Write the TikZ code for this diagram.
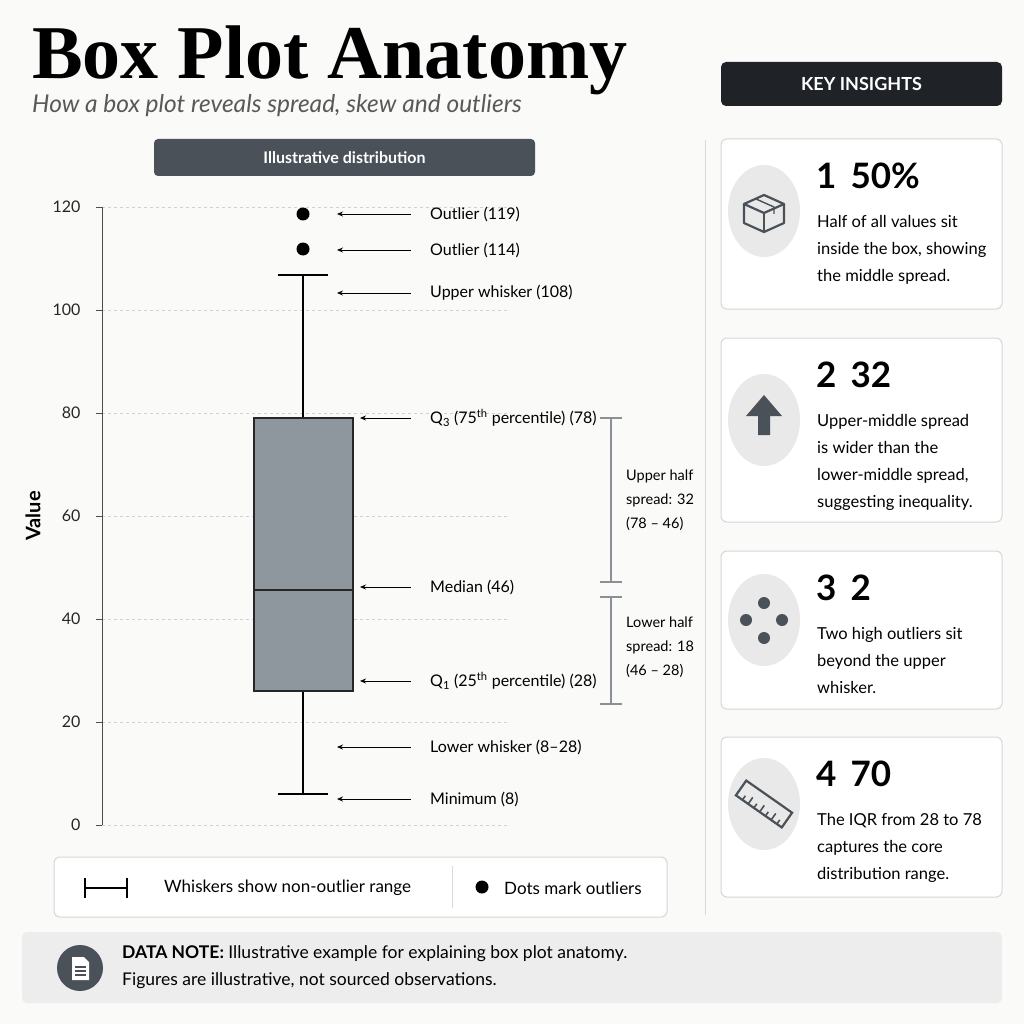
\documentclass[tikz,border=0pt]{standalone}
\usepackage{fontspec}
\setmainfont{Lato}
\newfontfamily\titlefont{Liberation Serif}
\usetikzlibrary{arrows.meta}
\definecolor{bg}{HTML}{FAFAF9}
\definecolor{slate}{HTML}{4A5158}
\definecolor{darkbar}{HTML}{1F2226}
\definecolor{boxfill}{HTML}{8E979E}
\definecolor{cardline}{HTML}{D6D6D6}
\definecolor{iconbg}{HTML}{E9E9EA}
\definecolor{brk}{HTML}{8A9096}
\tikzset{
 card/.style={draw=cardline,line width=1pt,fill=white,rounded corners=6pt},
 lbl/.style={anchor=west,font=\fontsize{16}{18}\selectfont,inner sep=0pt},
 ptr/.style={-{Stealth[length=6pt,width=5pt]},line width=0.8pt},
 grid/.style={draw=black!18,dashed,line width=0.6pt},
 tick/.style={anchor=east,font=\fontsize{16}{18}\selectfont,text=black!85},
 bigno/.style={anchor=west,font=\bfseries\fontsize{35}{36}\selectfont,inner sep=0pt},
 cardtxt/.style={anchor=north west,align=left,font=\fontsize{16.5}{27}\selectfont,inner sep=0pt},
 iconcirc/.style={fill=iconbg,draw=none},
 brack/.style={draw=brk,line width=2pt},
 sidelbl/.style={anchor=north west,align=left,font=\fontsize{14.5}{24}\selectfont,inner sep=0pt}
}
\begin{document}
\begin{tikzpicture}[x=1pt,y=-1pt]
\useasboundingbox (0,0) rectangle (1024,1024);
\fill[bg] (0,0) rectangle (1024,1024);
% title
\node[anchor=base west,inner sep=0pt,font=\titlefont\bfseries\fontsize{76}{76}\selectfont] (title) at (32,79) {Box Plot Anatomy};
\node[anchor=base west,inner sep=0pt,font=\itshape\fontsize{24.5}{26}\selectfont,text=black!65] (sub) at (32,113) {How a box plot reveals spread, skew and outliers};
% header bar
\node[fill=slate,rounded corners=4pt,minimum width=381pt,minimum height=37pt,text=white,font=\bfseries\fontsize{16}{18}\selectfont] (hdr) at (344.5,157.5) {Illustrative distribution};
% grid & axis
\foreach \v/\y in {120/207,100/310,80/413,60/516,40/619,20/722,0/825}{
 \draw[grid] (102,\y) -- (510,\y);
 \draw[black!70,line width=0.8pt] (96,\y) -- (102,\y);
 \node[tick] at (84,\y) {\v};
}
\draw[black!70,line width=1pt] (102,207) -- (102,825);
\node[rotate=90,font=\bfseries\fontsize{20}{22}\selectfont] (ylab) at (33,516) {Value};
% whiskers and box
\coordinate (wt) at (303,275); \coordinate (wb) at (303,794);
\draw[line width=2pt] (wt) -- (303,418);
\draw[line width=2pt] (303,691) -- (wb);
\draw[line width=2pt] (278,275) -- (328,275);
\draw[line width=2pt] (278,794) -- (328,794);
\node[draw=black!85,line width=2pt,fill=boxfill,minimum width=99pt,minimum height=273pt,inner sep=0pt] (box) at (303.5,554.5) {};
\draw[line width=2pt,black!85] (254,590) -- (353,590);
\fill (303,214) circle (6.5pt);
\fill (303,249) circle (6.5pt);
% labels and pointers
\foreach \y/\tx/\xe [count=\i] in {214/Outlier (119)/337,250/Outlier (114)/337,293/Upper whisker (108)/337,418/{Q\textsubscript{3} (75\textsuperscript{th} percentile) (78)}/360,587/Median (46)/360,681/{Q\textsubscript{1} (25\textsuperscript{th} percentile) (28)}/360,747/Lower whisker (8–28)/337,799/Minimum (8)/337}{
 \node[lbl] (L\i) at (430,\y) {\tx};
 \coordinate (P\i) at (\xe,\y);
 \draw[ptr] (411,\y) -- (P\i);
}
% brackets
\draw[brack] (611,418) -- (611,582); \draw[brack] (600,418) -- (622,418); \draw[brack] (600,582) -- (622,582);
\draw[brack] (611,597) -- (611,704); \draw[brack] (600,597) -- (622,597); \draw[brack] (600,704) -- (622,704);
\node[sidelbl] (up) at (626,470) {Upper half\\spread: 32\\(78 – 46)};
\node[sidelbl] (lo) at (626,617) {Lower half\\spread: 18\\(46 – 28)};
% legend
\node[card,minimum width=613pt,minimum height=60pt] (leg) at (360.5,887) {};
\draw[line width=1.6pt] (85,878) -- (85,898); \draw[line width=1.6pt] (85,888) -- (127,888); \draw[line width=1.6pt] (127,878) -- (127,898);
\node[lbl,font=\fontsize{17}{18}\selectfont] (lw) at (164,888) {Whiskers show non-outlier range};
\draw[black!15,line width=1pt] (452,866) -- (452,908);
\fill (482,887) circle (6.5pt);
\node[lbl,font=\fontsize{17}{18}\selectfont] (ld) at (504,888) {Dots mark outliers};
% separator
\draw[black!15,line width=1pt] (705,140) -- (705,915);
% key insights
\node[fill=darkbar,rounded corners=5pt,minimum width=281pt,minimum height=44pt,text=white,font=\bfseries\fontsize{18}{20}\selectfont] (ki) at (861.5,84) {KEY INSIGHTS};
\foreach \t/\b/\num/\val/\txt [count=\i] in {139/309/1/50\%/{Half of all values sit\\inside the box, showing\\the middle spread.},338/522/2/32/{Upper-middle spread\\is wider than the\\lower-middle spread,\\suggesting inequality.},551/709/3/2/{Two high outliers sit\\beyond the upper\\whisker.},737/897/4/70/{The IQR from 28 to 78\\captures the core\\distribution range.}}{
 \draw[card] (721,\t) rectangle (1002,\b);
 \node[bigno] (N\i) at (816,\t+37) {\num\hspace{14pt}\val};
 \node[cardtxt] (T\i) at (817,\t+76) {\txt};
}
\fill[iconbg] (764,211) ellipse (36pt and 46pt);
\fill[iconbg] (764,420) ellipse (36pt and 46pt);
\fill[iconbg] (764,620) ellipse (36pt and 46pt);
\fill[iconbg] (764,804) ellipse (36pt and 46pt);
% box icon
\begin{scope}[draw=slate,line width=2.2pt,line join=round]
\draw (744,204) -- (764,213) -- (784,204) -- (764,195) -- cycle;
\draw (744,204) -- (744,223) -- (764,232) -- (784,223) -- (784,204);
\draw (764,213) -- (764,232);
\draw[line width=1.4pt] (756,199) -- (774,207) -- (774,214);
\end{scope}
% arrow icon
\fill[slate] (764,395) -- (782,416) -- (770,416) -- (770,435) -- (758,435) -- (758,416) -- (746,416) -- cycle;
% dots icon
\fill[slate] (764,603) circle (6pt); \fill[slate] (746,620) circle (6pt); \fill[slate] (782,620) circle (6pt); \fill[slate] (764,638) circle (6pt);
% ruler icon
\begin{scope}[shift={(764,804)},rotate=-35]
\draw[slate,line width=2.2pt] (-28,-9) rectangle (28,9);
\foreach \xx/\ll in {-20/5,-13/8,-6/5,1/8,8/5,15/8,22/5}
 \draw[slate,line width=1.6pt] (\xx,9) -- (\xx,9-\ll);
\end{scope}
% data note
\node[fill=iconbg!80,rounded corners=5pt,minimum width=980pt,minimum height=71pt] (dn) at (512,967.5) {};
\fill[slate] (80,968) circle (23pt);
\fill[white] (72,957) -- (84,957) -- (89,962) -- (89,980) -- (72,980) -- cycle;
\foreach \yy in {967,971,975} \draw[slate,line width=1.2pt] (75,\yy) -- (86,\yy);
\node[anchor=north west,align=left,inner sep=0pt,font=\fontsize{17.5}{27}\selectfont] (dtxt) at (122,945) {\textbf{DATA NOTE:} Illustrative example for explaining box plot anatomy.\\Figures are illustrative, not sourced observations.};
\end{tikzpicture}
\end{document}
